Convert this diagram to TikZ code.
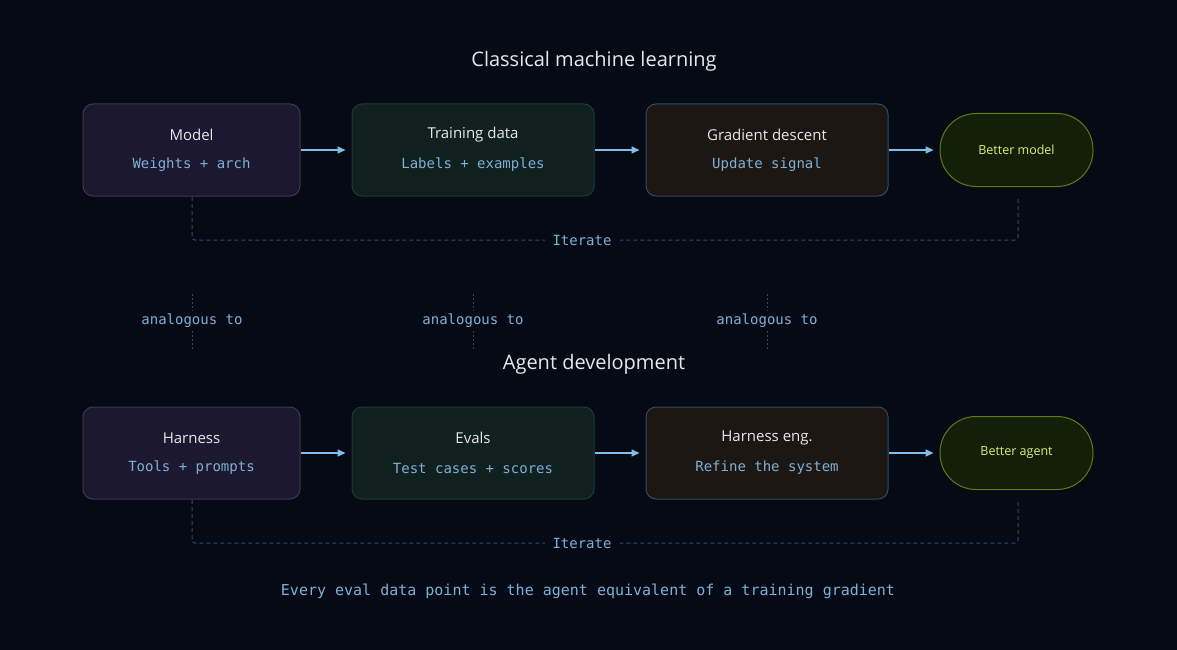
\documentclass[tikz,border=0pt]{standalone}
\usepackage{fontspec}
\setmainfont{Open Sans}
\newfontfamily\monof{DejaVu Sans Mono}
\usetikzlibrary{arrows.meta}
\definecolor{bg}{HTML}{050A14}
\definecolor{fa}{HTML}{1C1830}\definecolor{ba}{HTML}{3C3752}
\definecolor{fb}{HTML}{0F201F}\definecolor{bb}{HTML}{1F3A36}
\definecolor{fc}{HTML}{1C1712}\definecolor{bc}{HTML}{2F4A66}
\definecolor{fd}{HTML}{141F0A}\definecolor{bd}{HTML}{5E7C12}
\definecolor{tw}{HTML}{E8E8EC}\definecolor{tm}{HTML}{7FB0D8}
\definecolor{tg}{HTML}{D8F07A}\definecolor{dsh}{HTML}{2F4A66}
\definecolor{arr}{HTML}{7FBDEB}
\tikzset{
 box/.style={draw=#1,line width=1pt,rounded corners=10pt,minimum width=217pt,minimum height=92pt},
 pill/.style={draw=bd,fill=fd,line width=1pt,rounded corners=36pt,minimum width=153pt,minimum height=73pt,text=tg,font=\fontsize{12.5}{15}\selectfont},
 ttl/.style={text=tw,font=\fontsize{15}{18}\selectfont},
 mono/.style={text=tm,font=\monof\fontsize{14}{16}\selectfont},
 head/.style={text=tw,font=\fontsize{20}{24}\selectfont},
 ar/.style={draw=arr,line width=1.5pt,-{Triangle[length=8pt,width=7pt]}},
 it/.style={draw=dsh,line width=1pt,dash pattern=on 4pt off 3pt,rounded corners=3pt},
 dot/.style={draw=dsh,line width=1pt,dash pattern=on 1.5pt off 2.5pt},
}
\begin{document}
\begin{tikzpicture}[x=1pt,y=-1pt]
\fill[bg] (0,0) rectangle (1177,650);
\useasboundingbox (0,0) rectangle (1177,650);
\foreach \r/\dy/\h/\a/\as/\b/\bs/\c/\cs/\d in {1/0/Classical machine learning/Model/Weights + arch/Training data/Labels + examples/Gradient descent/Update signal/Better model, 2/303/Agent development/Harness/Tools + prompts/Evals/Test cases + scores/Harness eng./Refine the system/Better agent}{
 \node[head] (h\r) at (594,61+\dy) {\h};
 \node[box=ba,fill=fa,minimum width=217pt] (a\r) at (191.5,150+\dy) {};
 \node[box=bb,fill=fb,minimum width=242pt] (b\r) at (473,150+\dy) {};
 \node[box=bc,fill=fc,minimum width=242pt] (c\r) at (767,150+\dy) {};
 \node[pill] (d\r) at (1016.5,150+\dy) {\d};
 \foreach \n/\t/\s in {a/\a/\as,b/\b/\bs,c/\c/\cs}{
  \node[ttl] (\n t\r) at ([yshift=15pt]\n\r.center) {\t};
  \node[mono] (\n s\r) at ([yshift=-15pt]\n\r.center) {\s};
 }
 \draw[ar] (a\r.east) -- ([xshift=-6pt]b\r.west);
 \draw[ar] (b\r.east) -- ([xshift=-6pt]c\r.west);
 \draw[ar] (c\r.east) -- ([xshift=-6pt]d\r.west);
 \coordinate (p\r) at (192,240+\dy);
 \coordinate (q\r) at (1018,240+\dy);
 \draw[it] (192,197+\dy) -- (p\r) -- (q\r) -- (1018,197+\dy);
 \node[mono,fill=bg,inner xsep=8pt] (i\r) at (582,240+\dy) {Iterate};
}
\foreach \x/\k in {192/1,473/2,767/3}{
 \node[mono] (an\k) at (\x,321) {analogous to};
 \draw[dot] (\x,294) -- (an\k.north);
 \draw[dot] (an\k.south) -- (\x,350);
}
\node[mono,font=\monof\fontsize{15}{18}\selectfont] (foot) at (588,591) {Every eval data point is the agent equivalent of a training gradient};
\end{tikzpicture}
\end{document}
